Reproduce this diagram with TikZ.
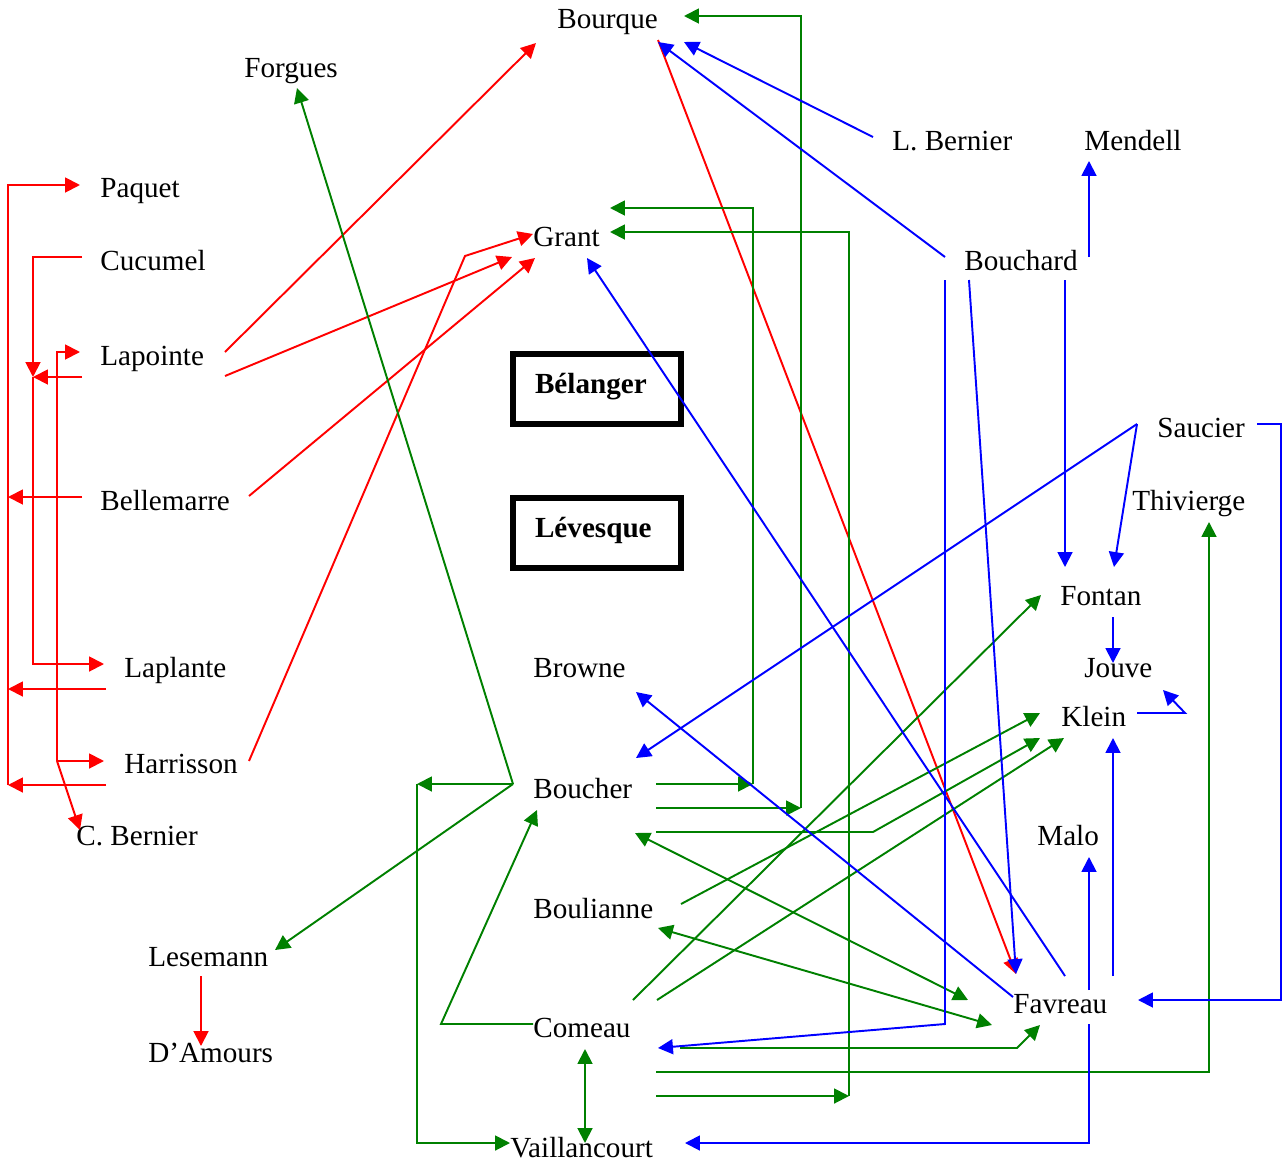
\documentclass[tikz,border=0pt]{standalone}
\usepackage{fontspec}
\setmainfont{Liberation Serif}
\usetikzlibrary{arrows.meta}
\definecolor{wordred}{RGB}{255,0,0}
\definecolor{wordgreen}{RGB}{0,128,0}
\definecolor{wordblue}{RGB}{0,0,255}

\begin{document}
\begin{tikzpicture}[
        x=0.02cm, y=-0.02cm,
        font=\fontsize{16.6}{20}\selectfont,
        >={Triangle[length=8.5pt,width=8.5pt]},
        person/.style={anchor=base west, inner sep=0},
        chief/.style={draw, line width=3pt, minimum width=3.36cm, minimum height=1.4cm,
            text width=2.48cm, align=left, text height=8pt, text depth=2.9pt,
            font=\fontsize{16.6}{20}\selectfont\bfseries},
        rline/.style={wordred, line width=1.1pt},
        gline/.style={wordgreen, line width=1.1pt},
        bline/.style={wordblue, line width=1.1pt}
    ]
        \useasboundingbox (0,0) rectangle (1285,1163);

        % names
        \node[person] (bourque) at (557,28) {Bourque};
        \node[person] (forgues) at (244,77) {Forgues};
        \node[person] (lbernier) at (892,150) {L. Bernier};
        \node[person] (mendell) at (1084,150) {Mendell};
        \node[person] (paquet) at (100,197) {Paquet};
        \node[person] (grant) at (533,246) {Grant};
        \node[person] (cucumel) at (100,270) {Cucumel};
        \node[person] (bouchard) at (964,270) {Bouchard};
        \node[person] (lapointe) at (100,365) {Lapointe};
        \node[person] (saucier) at (1157,437) {Saucier};
        \node[person] (bellemarre) at (100,510) {Bellemarre};
        \node[person] (thivierge) at (1132,510) {Thivierge};
        \node[person] (fontan) at (1060,605) {Fontan};
        \node[person] (laplante) at (124,677) {Laplante};
        \node[person] (browne) at (533,677) {Browne};
        \node[person] (jouve) at (1084,677) {Jouve};
        \node[person] (klein) at (1061,726) {Klein};
        \node[person] (harrisson) at (124,773) {Harrisson};
        \node[person] (boucher) at (533,798) {Boucher};
        \node[person] (cbernier) at (76,845) {C. Bernier};
        \node[person] (malo) at (1037,845) {Malo};
        \node[person] (boulianne) at (533,918) {Boulianne};
        \node[person] (lesemann) at (148,966) {Lesemann};
        \node[person] (favreau) at (1013,1013) {Favreau};
        \node[person] (comeau) at (533,1037) {Comeau};
        \node[person] (damours) at (148,1062) {D’Amours};
        \node[person] (vaillancourt) at (510,1157) {Vaillancourt};
        \node[chief] (belanger) at (597,389) {Bélanger};
        \node[chief] (levesque) at (597,533) {Lévesque};

        \coordinate (lrail) at ([shift={(-67,-12)}]harrisson.base west);
        \coordinate (bjoint) at ([shift={(-20,-14)}]boucher.base west);

        % red
        \draw[rline,->] ([shift={(-18,-13)}]bellemarre.base west) -- ++(-74,0);
        \draw[rline,->] ([shift={(-18,12)}]laplante.base west) -- ++(-98,0);
        \draw[rline,->] ([shift={(-18,12)}]harrisson.base west) -- ++(-98,0);
        \draw[rline,->] ([shift={(-116,12)}]harrisson.base west) |- ([shift={(-20,-12)}]paquet.base west);
        \draw[rline,->] ([shift={(-18,-13)}]cucumel.base west) -| ([shift={(-67,12)}]lapointe.base west);
        \draw[rline,->] ([shift={(-18,12)}]lapointe.base west) -- ++(-49,0);
        \draw[rline,->] ([shift={(-67,12)}]lapointe.base west) |- ([shift={(-20,-13)}]laplante.base west);
        \draw[rline,->] (lrail) |- ([shift={(-20,-13)}]lapointe.base west);
        \draw[rline,->] (lrail) -- ([shift={(-20,-12)}]harrisson.base west);
        \draw[rline,->] (lrail) -- ([shift={(4,-15)}]cbernier.base west);
        \draw[rline,->] ([shift={(125,-13)}]lapointe.base west) -- ([shift={(-21,15)}]bourque.base west);
        \draw[rline,->] ([shift={(125,11)}]lapointe.base west) -- ([shift={(-21,11)}]grant.base west);
        \draw[rline,->] ([shift={(149,-14)}]bellemarre.base west) -- ([shift={(2,12)}]grant.base west);
        \draw[rline,->] ([shift={(125,-12)}]harrisson.base west) -- ([shift={(-68,10)}]grant.base west) -- ([shift={(0,-12)}]grant.base west);
        \draw[rline,->] ([shift={(101,12)}]bourque.base west) -- ([shift={(3,-39)}]favreau.base west);
        \draw[rline,->] ([shift={(53,10)}]lesemann.base west) -- ([shift={(53,-16)}]damours.base west);

        % green
        \draw[gline,->] (bjoint) -- ([shift={(53,11)}]forgues.base west);
        \draw[gline,->] (bjoint) -- ([shift={(127,-16)}]lesemann.base west);
        \draw[gline,->] (bjoint) -- ++(-96,0);
        \draw[gline,->] ([shift={(-96,0)}]bjoint) |- ([shift={(0,-14)}]vaillancourt.base west);
        \draw[gline,->] ([shift={(0,-13)}]comeau.base west) -- ++(-92,0) -- ([shift={(4,12)}]boucher.base west);
        \draw[gline,<->] ([shift={(52,12)}]comeau.base west) -- ([shift={(75,-14)}]vaillancourt.base west);
        \draw[gline,->] ([shift={(123,-14)}]boucher.base west) -- ++(97,0);
        \draw[gline,->] ([shift={(220,-14)}]boucher.base west) |- ([shift={(77,-38)}]grant.base west);
        \draw[gline,->] ([shift={(123,10)}]boucher.base west) -- ++(145,0);
        \draw[gline,->] ([shift={(268,10)}]boucher.base west) |- ([shift={(127,-12)}]bourque.base west);
        \draw[gline,->] ([shift={(123,59)}]comeau.base west) -- ++(193,0);
        \draw[gline,->] ([shift={(316,59)}]comeau.base west) |- ([shift={(77,-14)}]grant.base west);
        \draw[gline,->] ([shift={(123,34)}]boucher.base west) -- ++(217,0) -- ([shift={(-21,12)}]klein.base west);
        \draw[gline,->] ([shift={(148,-14)}]boulianne.base west) -- ([shift={(-21,-13)}]klein.base west);
        \draw[gline,->] ([shift={(124,-37)}]comeau.base west) -- ([shift={(3,12)}]klein.base west);
        \draw[gline,->] ([shift={(100,-37)}]comeau.base west) -- ([shift={(-19,-10)}]fontan.base west);
        \draw[gline,<->] ([shift={(102,35)}]boucher.base west) -- ([shift={(-45,-13)}]favreau.base west);
        \draw[gline,<->] ([shift={(125,10)}]boulianne.base west) -- ([shift={(-21,12)}]favreau.base west);
        \draw[gline,->] ([shift={(147,11)}]comeau.base west) -- ++(337,0) -- ([shift={(27,12)}]favreau.base west);
        \draw[gline,->] ([shift={(123,35)}]comeau.base west) -| ([shift={(77,12)}]thivierge.base west);

        % blue
        \draw[bline,->] ([shift={(-19,-13)}]lbernier.base west) -- ([shift={(127,14)}]bourque.base west);
        \draw[bline,->] ([shift={(-19,-13)}]bouchard.base west) -- ([shift={(101,14)}]bourque.base west);
        \draw[bline,->] ([shift={(125,-13)}]bouchard.base west) -- ([shift={(5,11)}]mendell.base west);
        \draw[bline,->] ([shift={(101,10)}]bouchard.base west) -- ([shift={(5,-38)}]fontan.base west);
        \draw[bline,->] ([shift={(-20,-13)}]saucier.base west) -- ([shift={(54,-38)}]fontan.base west);
        \draw[bline,->] ([shift={(-20,-13)}]saucier.base west) -- ([shift={(103,-40)}]boucher.base west);
        \draw[bline,->] ([shift={(100,-13)}]saucier.base west) -- ++(24,0) |- ([shift={(125,-13)}]favreau.base west);
        \draw[bline,->] ([shift={(-19,10)}]bouchard.base west) -- ++(0,744) -- ([shift={(125,11)}]comeau.base west);
        \draw[bline,->] ([shift={(5,10)}]bouchard.base west) -- ([shift={(3,-39)}]favreau.base west);
        \draw[bline,->] ([shift={(52,-37)}]favreau.base west) -- ([shift={(54,12)}]grant.base west);
        \draw[bline,->] ([shift={(0,-16)}]favreau.base west) -- ([shift={(103,15)}]browne.base west);
        \draw[bline,->] ([shift={(100,-37)}]favreau.base west) -- ([shift={(52,12)}]klein.base west);
        \draw[bline,->] ([shift={(76,-23)}]favreau.base west) -- ([shift={(52,12)}]malo.base west);
        \draw[bline,->] ([shift={(76,11)}]favreau.base west) |- ([shift={(175,-14)}]vaillancourt.base west);
        \draw[bline,->] ([shift={(76,-13)}]klein.base west) -- ++(48,0) -- ([shift={(79,13)}]jouve.base west);
        \draw[bline,->] ([shift={(53,12)}]fontan.base west) -- ([shift={(29,-14)}]jouve.base west);
    \end{tikzpicture}
\end{document}
